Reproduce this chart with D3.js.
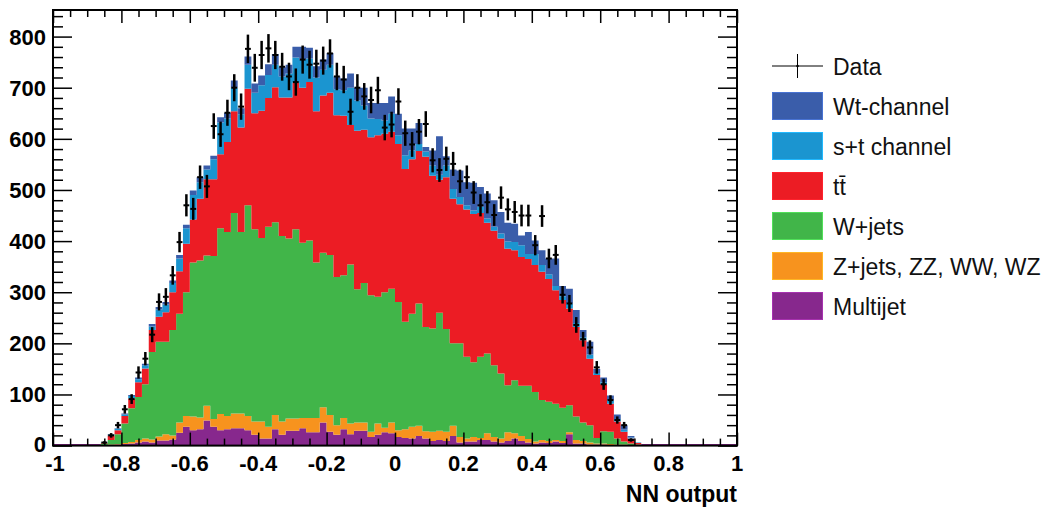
<!DOCTYPE html>
<html>
<head>
<meta charset="utf-8">
<script src="https://cdn.jsdelivr.net/npm/d3@7"></script>
<style>
  body { margin: 0; background: #fff; }
  svg { display: block; }
  text { font-family: "Liberation Sans", Arial, sans-serif; }
</style>
</head>
<body>
<svg width="1053" height="507"></svg>
<script>
// 100 bins of width 0.02 over [-1, 1]; filled bins start at bin 7 (-0.86)
const xMin = -1, xMax = 1, nBins = 100;
const firstBin = 7;
const emptyBinMultijet = 3;

// event counts per bin (bins 7..85)
const multijet = [1,1,2,3,4,6,8,6,10,10, 12,25,37,30,32,49,37,30,32,34,
  34,30,21,14,14,32,21,29,29,34, 26,26,45,27,21,32,22,29,29,17,
  21,26,24,17,15,14,19,14,9,11, 9,19,6,8,8,11,11,8,6,9,
  14,9,6,4,6,5,8,5,22,4, 4,2,2,2,1,1,1,1,1];
const zjets = [0,1,1,2,3,5,6,6,8,12, 8,20,21,27,23,29,15,32,26,29,
  29,28,26,33,23,28,26,24,24,20, 28,28,30,33,19,22,21,16,16,10,
  22,9,21,13,17,23,20,14,18,18, 18,20,11,6,9,4,13,9,8,17,
  10,10,7,4,5,4,3,4,4,7, 5,4,2,2,2,1,1,0,0];
const wjets = [3,9,19,38,66,84,106,171,185,181, 206,213,242,301,307,294,319,363,360,392,
  355,412,376,359,391,377,363,352,370,343, 347,304,302,313,290,279,311,261,273,267,
  248,265,262,251,210,221,239,204,202,231, 201,161,183,160,146,159,156,140,127,92,
  104,98,104,97,78,77,71,65,53,46, 36,34,11,24,24,12,6,3,1];
const ttbar = [1,9,8,15,19,29,31,43,49,58, 74,83,95,84,121,149,150,145,176,199,
  204,228,227,249,252,264,271,276,287,303, 310,296,308,317,316,312,273,310,300,309,
  316,310,307,309,299,302,298,333,299,260, 297,283,272,288,290,281,256,263,264,267,
  254,252,248,248,251,240,222,211,189,175, 161,130,123,92,55,33,19,10,3];
const schan = [1,1,3,3,5,6,6,7,14,15, 18,25,30,48,32,19,39,62,46,46,
  26,47,40,50,45,44,41,47,49,55, 46,66,50,55,51,50,73,59,47,37,
  32,26,35,17,27,17,14,10,20,10, 23,19,14,8,7,12,8,8,10,14,
  16,23,10,22,13,9,8,7,10,8, 6,8,4,4,6,5,4,2,1];
const wt = [0,1,1,2,2,3,3,5,5,5, 5,7,7,9,10,8,7,10,11,14,
  12,16,18,19,21,21,18,17,21,25, 21,22,20,23,25,23,28,25,35,30,
  31,34,34,42,52,43,41,9,29,75, 18,38,52,45,54,39,49,52,42,37,
  36,19,43,26,29,31,54,20,29,25, 14,25,8,9,10,9,9,3,0];
const observed = [6,20,40,71,91,143,170,217,281,291,
  333,398,470,463,525,507,625,609,651,700,
  663,776,739,764,777,764,741,722,711,755,
  745,747,753,767,722,716,653,700,683,676,
  695,622,628,673,611,589,614,629,558,539,
  561,551,517,525,495,470,476,451,485,462,
  457,450,450,392,449,366,373,295,278,236,
  208,192,153,120,89,50,40,11,null];

const xTickLabels = ["-1","-0.8","-0.6","-0.4","-0.2","0","0.2","0.4","0.6","0.8","1"];
const yTickLabels = ["0","100","200","300","400","500","600","700","800"];

const keys = ["multijet", "zjets", "wjets", "ttbar", "schan", "wt"];
const series = {multijet, zjets, wjets, ttbar, schan, wt};
const colors = {
  wt: "#3a5daa", schan: "#1b95d0", ttbar: "#ec1c24",
  wjets: "#41b549", zjets: "#f7931e", multijet: "#87288d"
};
const legendItems = [
  {key: "wt", label: "Wt-channel"},
  {key: "schan", label: "s+t channel"},
  {key: "ttbar", label: "tt\u0304"},
  {key: "wjets", label: "W+jets"},
  {key: "zjets", label: "Z+jets, ZZ, WW, WZ"},
  {key: "multijet", label: "Multijet"}
];

const svg = d3.select("svg");
const frame = {left: 53, right: 737, top: 10, bottom: 445.6};

const x = d3.scaleLinear().domain([xMin, xMax]).range([frame.left, frame.right]);
const y = d3.scaleLinear().domain([0, 852]).range([frame.bottom, frame.top]);
const binW = (xMax - xMin) / nBins;

// one row per bin, stacked bottom-up in keys order
const rows = d3.range(nBins).map(i => {
  const j = i - firstBin;
  const inRange = j >= 0 && j < multijet.length;
  const r = {x0: xMin + i * binW};
  keys.forEach(k => r[k] = inRange ? series[k][j] : 0);
  if (!inRange) r.multijet = emptyBinMultijet;
  return r;
});
rows.push({...rows[rows.length - 1], x0: xMax}); // closing edge for the step curve

const stacked = d3.stack().keys(keys)(rows);
const area = d3.area()
  .curve(d3.curveStepAfter)
  .x(d => x(d.data.x0))
  .y0(d => y(d[0]))
  .y1(d => y(d[1]));

svg.append("g")
  .selectAll("path")
  .data(stacked)
  .enter()
  .append("path")
    .attr("d", area)
    .attr("fill", d => colors[d.key]);

// ticks on all four sides, pointing inwards
function ticks(axis, values, size, transform) {
  const g = svg.append("g")
    .attr("transform", transform)
    .call(axis.tickValues(values).tickSize(size).tickFormat(""));
  g.select(".domain").remove();
  g.selectAll("line").attr("stroke", "#000").attr("stroke-width", 1.5);
}
const yMajor = d3.range(0, 801, 100);
const yMinor = d3.range(0, 852, 20).filter(v => v % 100 !== 0);
const xMajor = d3.range(0, 11).map(i => xMin + i * 0.2);
const xMinor = d3.range(0, 41).map(i => xMin + i * 0.05).filter((v, i) => i % 4 !== 0);

ticks(d3.axisRight(y), yMajor, 19, `translate(${frame.left},0)`);
ticks(d3.axisRight(y), yMinor, 10, `translate(${frame.left},0)`);
ticks(d3.axisLeft(y), yMajor, 19, `translate(${frame.right},0)`);
ticks(d3.axisLeft(y), yMinor, 10, `translate(${frame.right},0)`);
ticks(d3.axisTop(x), xMajor, 13, `translate(0,${frame.bottom})`);
ticks(d3.axisTop(x), xMinor, 7, `translate(0,${frame.bottom})`);
ticks(d3.axisBottom(x), xMajor, 13, `translate(0,${frame.top})`);
ticks(d3.axisBottom(x), xMinor, 7, `translate(0,${frame.top})`);

svg.append("rect")
  .attr("x", frame.left)
  .attr("y", frame.top)
  .attr("width", frame.right - frame.left)
  .attr("height", frame.bottom - frame.top)
  .attr("fill", "none")
  .attr("stroke", "#000")
  .attr("stroke-width", 2);

// tick labels
svg.append("g")
  .selectAll("text")
  .data(yTickLabels)
  .enter()
  .append("text")
    .attr("x", 46)
    .attr("y", d => y(+d) - (+d === 0 ? 2 : 0))
    .attr("dy", "0.36em")
    .attr("text-anchor", "end")
    .style("font-size", "22px")
    .style("font-weight", "bold")
    .text(d => d);

svg.append("g")
  .selectAll("text")
  .data(xTickLabels)
  .enter()
  .append("text")
    .attr("x", d => x(+d) + (+d === -1 ? 2 : 0))
    .attr("y", 471)
    .attr("text-anchor", "middle")
    .style("font-size", "22px")
    .style("font-weight", "bold")
    .text(d => d);

svg.append("text")
  .attr("x", frame.right)
  .attr("y", 502)
  .attr("text-anchor", "end")
  .style("font-size", "23px")
  .style("font-weight", "bold")
  .text("NN output");

// data points with sqrt(N) error bars
const pts = observed
  .map((v, j) => ({i: firstBin + j, v}))
  .filter(d => d.v != null);
const dataG = svg.append("g").attr("stroke", "#000");
dataG.selectAll("line.v")
  .data(pts)
  .enter()
  .append("line")
    .attr("class", "v")
    .attr("x1", d => x(xMin + (d.i + 0.5) * binW))
    .attr("x2", d => x(xMin + (d.i + 0.5) * binW))
    .attr("y1", d => y(d.v + Math.sqrt(d.v)))
    .attr("y2", d => y(Math.max(0, d.v - Math.sqrt(d.v))))
    .attr("stroke-width", 2.5);
dataG.selectAll("line.h")
  .data(pts)
  .enter()
  .append("line")
    .attr("class", "h")
    .attr("x1", d => x(xMin + d.i * binW) + 0.5)
    .attr("x2", d => x(xMin + (d.i + 1) * binW) - 0.5)
    .attr("y1", d => y(d.v))
    .attr("y2", d => y(d.v))
    .attr("stroke-width", 2);

// legend
const lg = svg.append("g");
lg.append("line").attr("x1", 772).attr("x2", 823).attr("y1", 66).attr("y2", 66)
  .attr("stroke", "#000").attr("stroke-width", 1);
lg.append("line").attr("x1", 797.5).attr("x2", 797.5).attr("y1", 54).attr("y2", 78)
  .attr("stroke", "#000").attr("stroke-width", 1);
lg.append("circle").attr("cx", 797.5).attr("cy", 66).attr("r", 1.3).attr("fill", "#000");
lg.append("text")
  .attr("x", 833)
  .attr("y", 75)
  .style("font-size", "23px")
  .attr("fill", "#111")
  .text("Data");

legendItems.forEach((item, idx) => {
  const top = 92 + idx * 40;
  lg.append("rect")
    .attr("x", 772.5)
    .attr("y", top + 0.5)
    .attr("width", 50)
    .attr("height", 27)
    .attr("fill", colors[item.key])
    .attr("stroke", d3.color(colors[item.key]).brighter(0.6))
    .attr("stroke-width", 1);
  lg.append("text")
    .attr("x", 833)
    .attr("y", top + 23)
    .style("font-size", "23px")
    .attr("fill", "#111")
    .text(item.label);
});
</script>
</body>
</html>
